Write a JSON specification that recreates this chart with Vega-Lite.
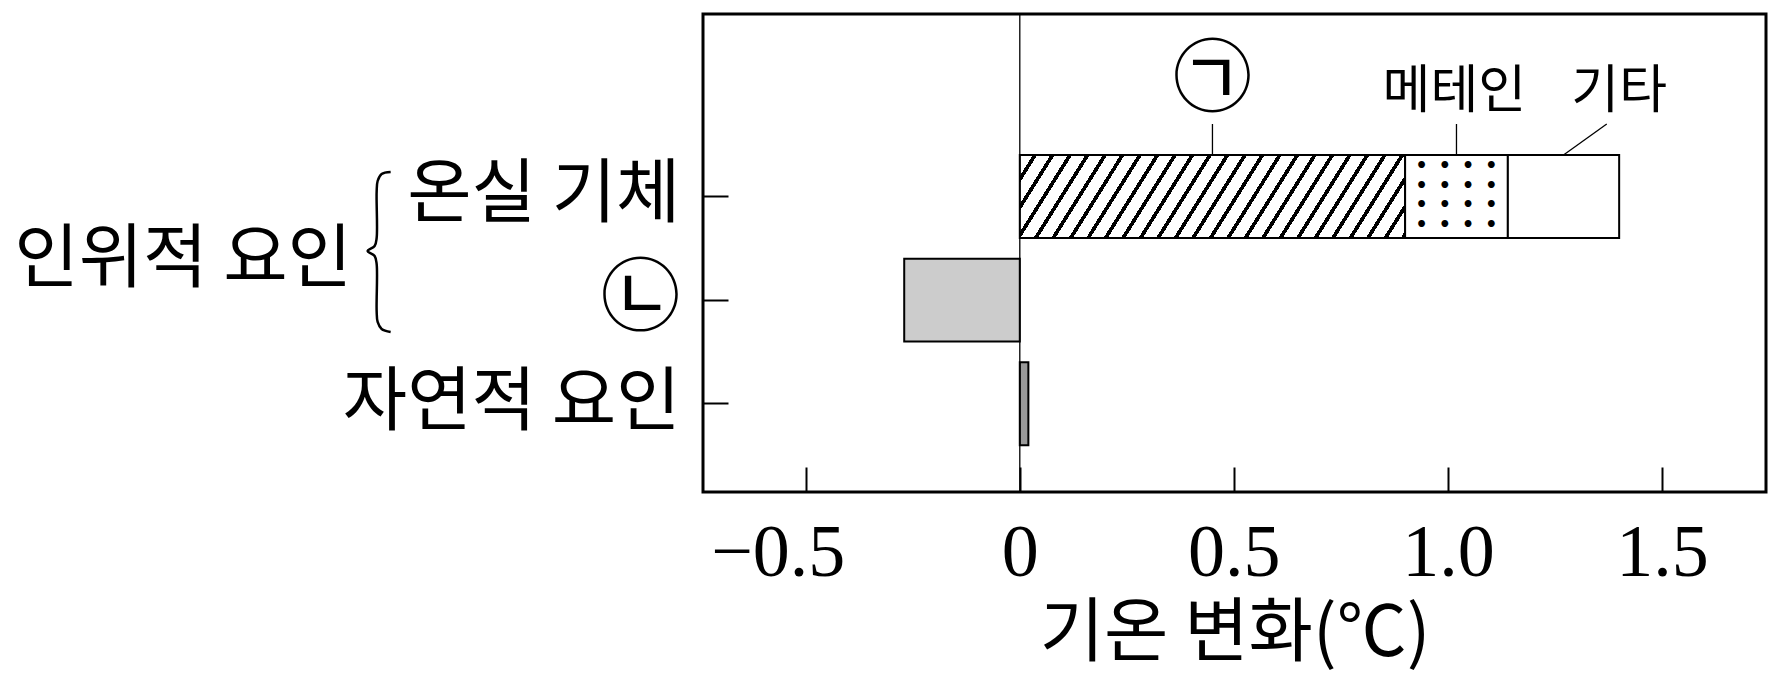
{
  "$schema": "https://vega.github.io/schema/vega-lite/v6.json",
  "width": 1063,
  "height": 478,
  "autosize": {"type": "none"},
  "padding": {"left": 703, "top": 14, "right": 16, "bottom": 194},
  "background": "white",
  "config": {"view": {"stroke": "black", "strokeWidth": 3}},
  "datasets": {
    "bars": [
      {"cat": "온실 기체", "part": "㉠", "seg": 1, "value": 0.90},
      {"cat": "온실 기체", "part": "메테인", "seg": 2, "value": 0.24},
      {"cat": "온실 기체", "part": "기타", "seg": 3, "value": 0.26},
      {"cat": "㉡", "part": "㉡", "seg": 1, "value": -0.27},
      {"cat": "자연적 요인", "part": "자연적 요인", "seg": 1, "value": 0.02}
    ],
    "labels": [
      {"text": "㉠", "x": 0.45, "y": 0.65},
      {"text": "메테인", "x": 1.015, "y": 0.757},
      {"text": "기타", "x": 1.40, "y": 0.757}
    ],
    "leaders": [
      {"x": 0.45, "x2": 0.45, "y": 1.061, "y2": 1.36},
      {"x": 1.02, "x2": 1.02, "y": 1.061, "y2": 1.36},
      {"x": 1.371, "x2": 1.27, "y": 1.061, "y2": 1.36}
    ],
    "group": [
      {"text": "인위적 요인", "x": -1.56, "y": 2.379}
    ],
    "brace": [
      {"x": -1.4696, "y": 1.5238},
      {"x": -1.4907, "y": 1.5431},
      {"x": -1.5000, "y": 1.6106},
      {"x": -1.5023, "y": 1.7166},
      {"x": -1.5023, "y": 2.1603},
      {"x": -1.5070, "y": 2.2375},
      {"x": -1.5234, "y": 2.2857},
      {"x": -1.5070, "y": 2.3339},
      {"x": -1.5023, "y": 2.4110},
      {"x": -1.5023, "y": 2.8643},
      {"x": -1.5000, "y": 2.9704},
      {"x": -1.4907, "y": 3.0379},
      {"x": -1.4696, "y": 3.0669}
    ],
    "zero": [{"value": 0}]
  },
  "layer": [
    {
      "data": {"name": "bars"},
      "mark": {"type": "bar", "stroke": "black", "strokeWidth": 2},
      "encoding": {
        "y": {
          "field": "cat", "type": "nominal",
          "scale": {"type": "band", "domain": ["온실 기체", "㉡", "자연적 요인"], "paddingInner": 0.2, "paddingOuter": 0.905, "align": 0.751},
          "axis": {
            "title": null,
            "labelFont": "Noto Sans CJK KR",
            "labelFontSize": {"condition": {"test": "datum.value === '㉡'", "value": 80}, "value": 70},
            "labelColor": "black",
            "labelPadding": 48,
            "labelLimit": 1000,
            "labelOverlap": false,
            "tickSize": -25,
            "tickWidth": 2,
            "tickColor": "black",
            "domain": false,
            "grid": false
          }
        },
        "x": {
          "field": "value", "type": "quantitative", "stack": "zero",
          "scale": {"domain": [-0.74, 1.743], "nice": false, "zero": false},
          "axis": {
            "values": [-0.5, 0, 0.5, 1, 1.5],
            "labelExpr": "datum.value === 0 ? '0' : format(datum.value, '.1f')",
            "labelFont": "Liberation Serif",
            "labelFontSize": 74,
            "labelColor": "black",
            "labelOffset": {"condition": {"test": "datum.value < 0", "value": -28}, "value": 0},
            "labelPadding": 50,
            "labelFlush": false,
            "labelOverlap": false,
            "tickSize": -25,
            "tickWidth": 2,
            "tickColor": "black",
            "domain": false,
            "grid": false,
            "title": "기온 변화(℃)",
            "titleFont": "Noto Sans CJK KR",
            "titleFontSize": 70,
            "titleFontWeight": "normal",
            "titleColor": "black",
            "titlePadding": 10
          }
        },
        "detail": {"field": "part"},
        "order": {"field": "seg", "type": "quantitative"},
        "fill": {
          "condition": [
            {"test": "datum.part === '㉠'", "value": {
              "gradient": "linear", "x1": 0, "y1": 0, "x2": 1.1144, "y2": 0.1499,
              "stops": [
                {"offset": 0.00, "color": "#fff"}, {"offset": 0.03, "color": "#fff"}, {"offset": 0.03, "color": "#000"}, {"offset": 0.04, "color": "#000"},
                {"offset": 0.04, "color": "#fff"}, {"offset": 0.07, "color": "#fff"}, {"offset": 0.07, "color": "#000"}, {"offset": 0.08, "color": "#000"},
                {"offset": 0.08, "color": "#fff"}, {"offset": 0.11, "color": "#fff"}, {"offset": 0.11, "color": "#000"}, {"offset": 0.12, "color": "#000"},
                {"offset": 0.12, "color": "#fff"}, {"offset": 0.15, "color": "#fff"}, {"offset": 0.15, "color": "#000"}, {"offset": 0.16, "color": "#000"},
                {"offset": 0.16, "color": "#fff"}, {"offset": 0.19, "color": "#fff"}, {"offset": 0.19, "color": "#000"}, {"offset": 0.20, "color": "#000"},
                {"offset": 0.20, "color": "#fff"}, {"offset": 0.23, "color": "#fff"}, {"offset": 0.23, "color": "#000"}, {"offset": 0.24, "color": "#000"},
                {"offset": 0.24, "color": "#fff"}, {"offset": 0.27, "color": "#fff"}, {"offset": 0.27, "color": "#000"}, {"offset": 0.28, "color": "#000"},
                {"offset": 0.28, "color": "#fff"}, {"offset": 0.31, "color": "#fff"}, {"offset": 0.31, "color": "#000"}, {"offset": 0.32, "color": "#000"},
                {"offset": 0.32, "color": "#fff"}, {"offset": 0.35, "color": "#fff"}, {"offset": 0.35, "color": "#000"}, {"offset": 0.36, "color": "#000"},
                {"offset": 0.36, "color": "#fff"}, {"offset": 0.39, "color": "#fff"}, {"offset": 0.39, "color": "#000"}, {"offset": 0.40, "color": "#000"},
                {"offset": 0.40, "color": "#fff"}, {"offset": 0.43, "color": "#fff"}, {"offset": 0.43, "color": "#000"}, {"offset": 0.44, "color": "#000"},
                {"offset": 0.44, "color": "#fff"}, {"offset": 0.47, "color": "#fff"}, {"offset": 0.47, "color": "#000"}, {"offset": 0.48, "color": "#000"},
                {"offset": 0.48, "color": "#fff"}, {"offset": 0.51, "color": "#fff"}, {"offset": 0.51, "color": "#000"}, {"offset": 0.52, "color": "#000"},
                {"offset": 0.52, "color": "#fff"}, {"offset": 0.55, "color": "#fff"}, {"offset": 0.55, "color": "#000"}, {"offset": 0.56, "color": "#000"},
                {"offset": 0.56, "color": "#fff"}, {"offset": 0.59, "color": "#fff"}, {"offset": 0.59, "color": "#000"}, {"offset": 0.60, "color": "#000"},
                {"offset": 0.60, "color": "#fff"}, {"offset": 0.63, "color": "#fff"}, {"offset": 0.63, "color": "#000"}, {"offset": 0.64, "color": "#000"},
                {"offset": 0.64, "color": "#fff"}, {"offset": 0.67, "color": "#fff"}, {"offset": 0.67, "color": "#000"}, {"offset": 0.68, "color": "#000"},
                {"offset": 0.68, "color": "#fff"}, {"offset": 0.71, "color": "#fff"}, {"offset": 0.71, "color": "#000"}, {"offset": 0.72, "color": "#000"},
                {"offset": 0.72, "color": "#fff"}, {"offset": 0.75, "color": "#fff"}, {"offset": 0.75, "color": "#000"}, {"offset": 0.76, "color": "#000"},
                {"offset": 0.76, "color": "#fff"}, {"offset": 0.79, "color": "#fff"}, {"offset": 0.79, "color": "#000"}, {"offset": 0.80, "color": "#000"},
                {"offset": 0.80, "color": "#fff"}, {"offset": 0.83, "color": "#fff"}, {"offset": 0.83, "color": "#000"}, {"offset": 0.84, "color": "#000"},
                {"offset": 0.84, "color": "#fff"}, {"offset": 0.87, "color": "#fff"}, {"offset": 0.87, "color": "#000"}, {"offset": 0.88, "color": "#000"},
                {"offset": 0.88, "color": "#fff"}, {"offset": 0.91, "color": "#fff"}, {"offset": 0.91, "color": "#000"}, {"offset": 0.92, "color": "#000"},
                {"offset": 0.92, "color": "#fff"}, {"offset": 0.95, "color": "#fff"}, {"offset": 0.95, "color": "#000"}, {"offset": 0.96, "color": "#000"},
                {"offset": 0.96, "color": "#fff"}, {"offset": 0.99, "color": "#fff"}, {"offset": 0.99, "color": "#000"}, {"offset": 1.00, "color": "#000"}
              ]
            }},
            {"test": "datum.part === '㉡'", "value": "#cccccc"},
            {"test": "datum.part === '자연적 요인'", "value": "#9a9a9a"}
          ],
          "value": "white"
        }
      }
    },
    {
      "data": {"name": "bars"},
      "mark": {"type": "text", "font": "DejaVu Sans Mono", "fontWeight": "bold", "fontSize": 19.35, "lineHeight": 19.7, "align": "center", "baseline": "middle", "color": "black"},
      "encoding": {
        "y": {
          "field": "cat", "type": "nominal", "bandPosition": 0.133,
          "scale": {"type": "band", "domain": ["온실 기체", "㉡", "자연적 요인"], "paddingInner": 0.2, "paddingOuter": 0.905, "align": 0.751},
          "axis": null
        },
        "x": {
          "field": "value", "type": "quantitative", "stack": "zero", "bandPosition": 0.5,
          "scale": {"domain": [-0.74, 1.743], "nice": false, "zero": false}
        },
        "detail": {"field": "part"},
        "order": {"field": "seg", "type": "quantitative"},
        "text": {
          "condition": {"test": "datum.part === '메테인'", "value": ["• • • •", "• • • •", "• • • •", "• • • •"]},
          "value": ""
        }
      }
    },
    {
      "data": {"name": "zero"},
      "mark": {"type": "rule", "color": "black", "strokeWidth": 1.3},
      "encoding": {
        "x": {"field": "value", "type": "quantitative", "scale": {"domain": [-0.74, 1.743], "nice": false, "zero": false}}
      }
    },
    {
      "data": {"name": "leaders"},
      "mark": {"type": "rule", "color": "black", "strokeWidth": 1.3},
      "encoding": {
        "x": {"field": "x", "type": "quantitative", "scale": {"domain": [-0.74, 1.743], "nice": false, "zero": false}},
        "x2": {"field": "x2"},
        "y": {"field": "y", "type": "quantitative", "scale": {"domain": [0, 4.61], "reverse": true, "nice": false, "zero": false}, "axis": null},
        "y2": {"field": "y2"}
      }
    },
    {
      "data": {"name": "labels"},
      "mark": {"type": "text", "font": "Noto Sans CJK KR", "align": "center", "baseline": "middle", "color": "black"},
      "encoding": {
        "x": {"field": "x", "type": "quantitative", "scale": {"domain": [-0.74, 1.743], "nice": false, "zero": false}},
        "y": {"field": "y", "type": "quantitative", "scale": {"domain": [0, 4.61], "reverse": true, "nice": false, "zero": false}, "axis": null},
        "text": {"field": "text"},
        "size": {"condition": {"test": "datum.text === '㉠'", "value": 80}, "value": 52}
      }
    },
    {
      "data": {"name": "group"},
      "mark": {"type": "text", "font": "Noto Sans CJK KR", "fontSize": 70, "align": "right", "baseline": "middle", "color": "black"},
      "encoding": {
        "x": {"field": "x", "type": "quantitative", "scale": {"domain": [-0.74, 1.743], "nice": false, "zero": false}},
        "y": {"field": "y", "type": "quantitative", "scale": {"domain": [0, 4.61], "reverse": true, "nice": false, "zero": false}, "axis": null},
        "text": {"field": "text"}
      }
    },
    {
      "data": {"name": "brace"},
      "mark": {"type": "line", "color": "black", "strokeWidth": 2.5, "interpolate": "catmull-rom"},
      "encoding": {
        "x": {"field": "x", "type": "quantitative", "scale": {"domain": [-0.74, 1.743], "nice": false, "zero": false}},
        "y": {"field": "y", "type": "quantitative", "scale": {"domain": [0, 4.61], "reverse": true, "nice": false, "zero": false}, "axis": null},
        "order": {"value": null}
      }
    }
  ],
  "resolve": {"scale": {"y": "independent"}}
}
